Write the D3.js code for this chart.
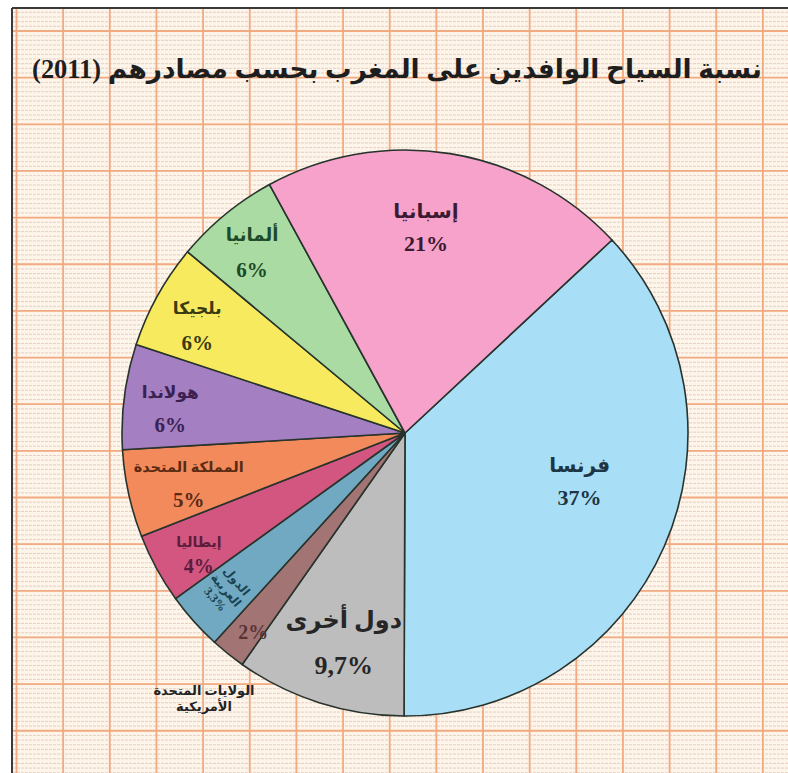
<!DOCTYPE html>
<html>
<head>
<meta charset="utf-8">
<script src="https://cdn.jsdelivr.net/npm/d3@7"></script>
<style>
html,body{margin:0;padding:0;background:#fff;}
svg{display:block;}
text{font-family:"Liberation Serif","DejaVu Sans",serif;font-weight:bold;}
</style>
</head>
<body>
<svg id="chart" width="788" height="773"></svg>
<script>
// ---- data ----
const title = "نسبة السياح الوافدين على المغرب بحسب مصادرهم (2011)";
const categories = ["فرنسا","دول أخرى","الولايات المتحدة الأمريكية","الدول العربية","إيطاليا","المملكة المتحدة","هولاندا","بلجيكا","ألمانيا","إسبانيا"];
const values = [37, 9.7, 2, 3.3, 4, 5, 6, 6, 6, 21];
const valueLabels = ["37%","9,7%","2%","3,3%","4%","5%","6%","6%","6%","21%"];

// ---- styles / layout (kept separate from data) ----
const colors = ["#a8def6","#bdbdbd","#a27474","#70a9c1","#d25680","#f28a5c","#a47fc2","#f8ea5e","#a9dba3","#f6a2ca"];
const textColors = ["#1d3544","#262626","#5a3434","#1b4352","#5c1c3c","#5a2a12","#3b2152","#3b3b12","#1c4a2a","#3c1a32"];
// label placement: [angle in degrees clockwise from north, radius]
const labelPolar = [[105.3,181],[196.3,218],[217.4,250],[228.7,238],[239.6,239],[257,222],[276.1,236],[297.4,234],[319.8,237],[5.8,207]];
const nameSize  = [20,24,13,12,14,14.5,17,17,18,20];
const valueSize = [22,26,20,12,20,21,21,21,21,22];
const lineGap   = [32,45,0,14,24,33,33,34,35,32];

const W = 788, H = 773;
const cx = 405, cy = 433, R = 283;
const svg = d3.select("#chart");

// ---- graph paper background ----
const bg = svg.append("g");
bg.append("rect").attr("x",12).attr("y",8).attr("width",W-12).attr("height",H-8).attr("fill","#fdf4ea");
const step = 46.65, x0 = 16.5, y0 = 31;
for (let y = y0 - step; y < H; y += step/10) {
  if (y < 9) continue;
  bg.append("line").attr("x1",13).attr("x2",W).attr("y1",y).attr("y2",y)
    .attr("stroke","#e6c9bc").attr("stroke-width",0.9).attr("stroke-dasharray","3,1");
}
for (let y = y0; y < H; y += step) {
  bg.append("line").attr("x1",13).attr("x2",W).attr("y1",y).attr("y2",y)
    .attr("stroke","#f2aa80").attr("stroke-width",1.8);
}
for (let x = x0; x < W; x += step) {
  bg.append("line").attr("x1",x).attr("x2",x).attr("y1",9).attr("y2",H)
    .attr("stroke","#f2aa80").attr("stroke-width",1.8);
}
bg.append("line").attr("x1",12).attr("x2",W).attr("y1",8).attr("y2",8).attr("stroke","#3a3a3a").attr("stroke-width",2);
bg.append("line").attr("x1",12).attr("x2",12).attr("y1",8).attr("y2",H).attr("stroke","#3a3a3a").attr("stroke-width",2);

// ---- title ----
const t = svg.append("text")
  .attr("x",397).attr("y",78)
  .attr("direction","rtl")
  .style("direction","rtl")
  .attr("text-anchor","middle")
  .attr("fill","#1e1e1e")
  .style("font-size","30px")
  .text(title);
const tw = t.node().getComputedTextLength();
t.style("font-size", Math.min(40, 30*730/tw).toFixed(2)+"px");

// ---- pie ----
const a0 = 47*Math.PI/180;
const pie = d3.pie().sort(null).value(d=>d).startAngle(a0).endAngle(a0+2*Math.PI);
const arcs = pie(values);
const arc = d3.arc().innerRadius(0).outerRadius(R);
const g = svg.append("g").attr("transform",`translate(${cx},${cy})`);
g.selectAll("path").data(arcs).join("path")
  .attr("d",arc)
  .attr("fill",(d,i)=>colors[i])
  .attr("stroke","#27332c").attr("stroke-width",1.6).attr("stroke-linejoin","round");

// ---- labels ----
function polar(i){
  const a = labelPolar[i][0]*Math.PI/180, r = labelPolar[i][1];
  return [r*Math.sin(a), -r*Math.cos(a)];
}
const lab = g.append("g");
arcs.forEach((d,i)=>{
  const [x,y] = polar(i);
  let lines, sizes;
  if (i === 2) { lines = [valueLabels[i]]; sizes = [valueSize[i]]; }
  else if (i === 3) { lines = ["الدول","العربية",valueLabels[i]]; sizes = [nameSize[i],nameSize[i],valueSize[i]]; }
  else { lines = [categories[i], valueLabels[i]]; sizes = [nameSize[i], valueSize[i]]; }
  const lh = lineGap[i];
  const tg = lab.append("g").attr("transform", `translate(${x},${y})` + (i===3 ? " rotate(50)" : ""));
  lines.forEach((s,k)=>{
    tg.append("text")
      .attr("x",0)
      .attr("y",(k-(lines.length-1)/2)*lh + sizes[k]*0.36)
      .attr("text-anchor","middle")
      .attr("fill",textColors[i])
      .style("font-size",sizes[k]+"px")
      .text(s);
  });
});
// USA name outside the pie
{
  const x = 204 - cx, y = 699 - cy;
  const parts = categories[2].split(" ");
  const l1 = parts.slice(0,2).join(" "), l2 = parts.slice(2).join(" ");
  [l1,l2].forEach((s,k)=>{
    lab.append("text").attr("x",x).attr("y",y+(k-0.5)*16+4)
      .attr("text-anchor","middle").attr("fill","#222")
      .style("font-size",nameSize[2]+"px").text(s);
  });
}
</script>
</body>
</html>
